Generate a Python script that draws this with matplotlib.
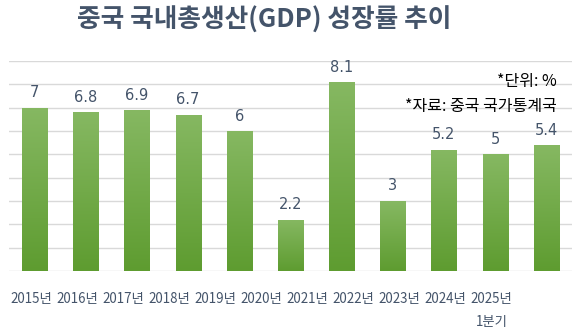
import numpy as np
import matplotlib
matplotlib.use("Agg")
import matplotlib.pyplot as plt
from matplotlib.colors import LinearSegmentedColormap

plt.rcParams['font.family'] = ['Noto Sans CJK KR', 'DejaVu Sans']

years = ["2015년", "2016년", "2017년", "2018년", "2019년", "2020년",
         "2021년", "2022년", "2023년", "2024년", "2025년\n1분기"]
growth = [7, 6.8, 6.9, 6.7, 6, 2.2, 8.1, 3, 5.2, 5, 5.4]
value_labels = ["7", "6.8", "6.9", "6.7", "6", "2.2", "8.1", "3", "5.2", "5", "5.4"]

text_col = "#44546A"

fig = plt.figure(figsize=(5.78, 3.28), dpi=100)
ax = fig.add_axes([0.0155, 0.174, 0.974, 0.64])

x = np.arange(len(growth))
bars = ax.bar(x, growth, width=0.49, color="#72AD45", zorder=2)

# vertical gradient inside each bar (light top, darker bottom)
cmap = LinearSegmentedColormap.from_list("g", ["#5E9C30", "#86B862"])
grad = np.linspace(0, 1, 256).reshape(-1, 1)
for b in bars:
    bx, by = b.get_x(), b.get_y()
    w, h = b.get_width(), b.get_height()
    im = ax.imshow(grad, cmap=cmap, origin="lower", aspect="auto",
                   extent=[bx, bx + w, by, by + h], zorder=3)
    im.set_clip_path(b)

for xi, v, lab in zip(x, growth, value_labels):
    ax.text(xi, v + 0.32, lab, ha="center", va="bottom", fontsize=10.5,
            color=text_col, family=['DejaVu Sans'])

ax.set_xlim(-0.5, len(growth) - 0.5)
ax.set_ylim(0, 9)
ax.set_yticks(np.arange(0, 10, 1))
ax.yaxis.grid(True, color="#D9D9D9", linewidth=1, zorder=0)
ax.set_yticklabels([])
ax.tick_params(axis="y", length=0)
ax.tick_params(axis="x", length=0, pad=15)
for s in ax.spines.values():
    s.set_visible(False)

# category labels sit slightly compressed relative to bars in the source
ax.set_xticks(x * 0.9 - 0.07)
ax.set_xticklabels(years, fontsize=9.6, color=text_col, linespacing=1.85)

fig.text(0.457, 0.94, "중국 국내총생산(GDP) 성장률 추이", ha="center", va="center",
         fontsize=18.5, fontweight="bold", color=text_col)

fig.text(0.964, 0.752, "*단위: %", ha="right", va="center", fontsize=11.5, color="#000000")
fig.text(0.964, 0.676, "*자료: 중국 국가통계국", ha="right", va="center", fontsize=11.5, color="#000000")

fig.savefig("out.png", dpi=100, facecolor="white")
